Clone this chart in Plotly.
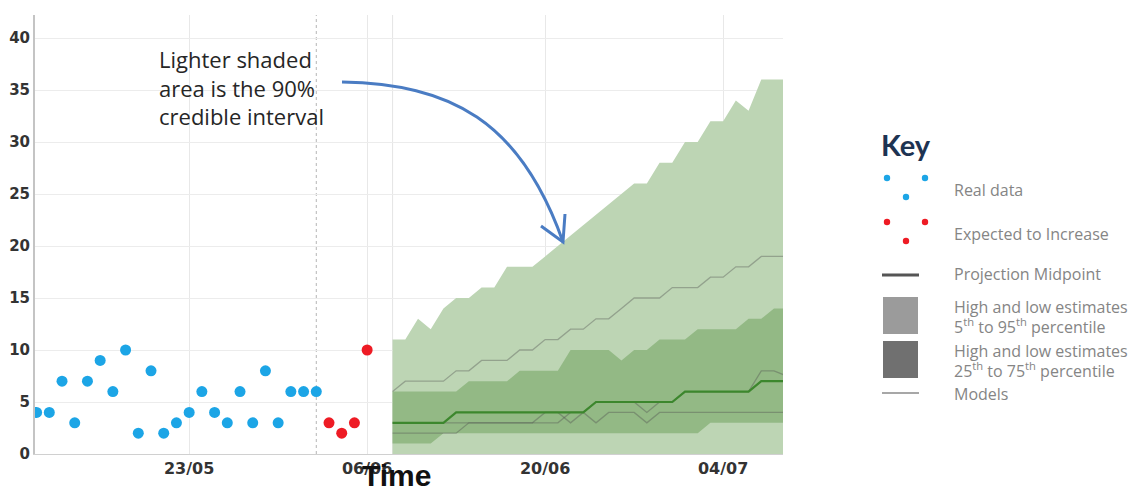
import pandas as pd
import plotly.graph_objects as go

# ---------------- data ----------------
real_start = "2020-05-11"
real_values = [4, 4, 7, 3, 7, 9, 6, 10, 2, 8, 2, 3, 4, 6, 4, 3, 6, 3, 8, 3, 6, 6, 6]

expected_start = "2020-06-03"
expected_values = [3, 2, 3, 10]

proj_start = "2020-06-08"
p95_high = [11, 11, 13, 12, 14, 15, 15, 16, 16, 18, 18, 18, 19, 20, 21, 22, 23, 24, 25, 26,
            26, 28, 28, 30, 30, 32, 32, 34, 33, 36, 36, 36]
p5_low = [0, 0, 0, 0, 0, 0, 0, 0, 0, 0, 0, 0, 0, 0, 0, 0, 0, 0, 0, 0,
          0, 0, 0, 0, 0, 0, 0, 0, 0, 0, 0, 0]
p75_high = [6, 6, 6, 6, 6, 6, 7, 7, 7, 7, 8, 8, 8, 8, 10, 10, 10, 10, 9, 10,
            10, 11, 11, 11, 12, 12, 12, 12, 13, 13, 14, 14]
p25_low = [1, 1, 1, 1, 2, 2, 2, 2, 2, 2, 2, 2, 2, 2, 2, 2, 2, 2, 2, 2,
           2, 2, 2, 2, 2, 3, 3, 3, 3, 3, 3, 3]
midpoint = [3, 3, 3, 3, 3, 4, 4, 4, 4, 4, 4, 4, 4, 4, 4, 4, 5, 5, 5, 5,
            5, 5, 5, 6, 6, 6, 6, 6, 6, 7, 7, 7]
model_a = [6, 7, 7, 7, 7, 8, 8, 9, 9, 9, 10, 10, 11, 11, 12, 12, 13, 13, 14, 15,
           15, 15, 16, 16, 16, 17, 17, 18, 18, 19, 19, 19]
model_b = [2, 2, 2, 2, 2, 2, 3, 3, 3, 3, 3, 3, 4, 4, 3, 4, 3, 4, 4, 4,
           3, 4, 4, 4, 4, 4, 4, 4, 4, 4, 4, 4]
model_c = [3, 3, 3, 3, 3, 3, 3, 3, 3, 3, 3, 3, 3, 3, 4, 4, 5, 5, 5, 5,
           4, 5, 5, 6, 6, 6, 6, 6, 6, 8, 8, 7.5]

tick_dates = ["2020-05-23", "2020-06-06", "2020-06-20", "2020-07-04"]
tick_labels = ["23/05", "06/06", "20/06", "04/07"]
y_ticks = [0, 5, 10, 15, 20, 25, 30, 35, 40]
cutoff_date = "2020-06-02"

real_dates = pd.date_range(real_start, periods=len(real_values))
expected_dates = pd.date_range(expected_start, periods=len(expected_values))
proj_dates = pd.date_range(proj_start, periods=len(p95_high))

# ---------------- styling ----------------
LIGHT = "#bdd5b4"
DARK = "#93b985"
MID = "#3c872d"
MODEL = "rgba(80,80,80,0.38)"
BLUE = "#1ca5e6"
RED = "#ee1b24"

OFF = 8                      # page body margin
W, H = 1146 - OFF, 488 - OFF
# plot area in page pixels
L, R, T, B = 35, 783, 15, 454


def px(x):
    return (x - L) / (R - L)


def py(y):
    return (B - y) / (B - T)


fig = go.Figure()

# 90% band
fig.add_trace(go.Scatter(x=proj_dates, y=p5_low, mode="lines", line=dict(width=0),
                         showlegend=False, hoverinfo="skip"))
fig.add_trace(go.Scatter(x=proj_dates, y=p95_high, mode="lines", line=dict(width=0),
                         fill="tonexty", fillcolor=LIGHT, showlegend=False))
# 50% band
fig.add_trace(go.Scatter(x=proj_dates, y=p25_low, mode="lines", line=dict(width=0),
                         showlegend=False, hoverinfo="skip"))
fig.add_trace(go.Scatter(x=proj_dates, y=p75_high, mode="lines", line=dict(width=0),
                         fill="tonexty", fillcolor=DARK, showlegend=False))
# model lines
for m in (model_a, model_b, model_c):
    fig.add_trace(go.Scatter(x=proj_dates, y=m, mode="lines",
                             line=dict(color=MODEL, width=1.3), showlegend=False))
# midpoint
fig.add_trace(go.Scatter(x=proj_dates, y=midpoint, mode="lines",
                         line=dict(color=MID, width=2.2), showlegend=False))
# observed points
fig.add_trace(go.Scatter(x=real_dates, y=real_values, mode="markers",
                         marker=dict(color=BLUE, size=11), showlegend=False))
fig.add_trace(go.Scatter(x=expected_dates, y=expected_values, mode="markers",
                         marker=dict(color=RED, size=11), showlegend=False))

shapes = []
# dotted cut-off line and projection start line
shapes.append(dict(type="line", xref="x", yref="paper", x0=cutoff_date, x1=cutoff_date,
                   y0=0, y1=1, line=dict(color="#b5b5b5", width=1, dash="dot"), layer="below"))
shapes.append(dict(type="line", xref="x", yref="paper", x0=proj_dates[0], x1=proj_dates[0],
                   y0=0, y1=1, line=dict(color="#e4e4e4", width=1), layer="below"))

# curved arrow (annotation)
p0, p1, p2, p3 = (342, 82), (450, 84), (520, 120), (563, 242)
path = "M {} {} C {} {}, {} {}, {} {}".format(px(p0[0]), py(p0[1]), px(p1[0]), py(p1[1]),
                                             px(p2[0]), py(p2[1]), px(p3[0]), py(p3[1]))
shapes.append(dict(type="path", xref="paper", yref="paper", path=path,
                   line=dict(color="#4a7cc3", width=3)))
head = "M {} {} L {} {} L {} {}".format(px(541), py(226), px(563), py(242), px(565), py(214))
shapes.append(dict(type="path", xref="paper", yref="paper", path=head,
                   line=dict(color="#4a7cc3", width=3)))

# key glyphs
def dot(cx, cy, color, r=3.2):
    return dict(type="circle", xref="paper", yref="paper", xsizemode="pixel", ysizemode="pixel",
                xanchor=px(cx), yanchor=py(cy), x0=-r, x1=r, y0=-r, y1=r,
                fillcolor=color, line=dict(width=0))


for (cx, cy) in [(887, 178), (925, 178), (906, 197)]:
    shapes.append(dot(cx, cy, BLUE))
for (cx, cy) in [(887, 222), (925, 222), (906, 241)]:
    shapes.append(dot(cx, cy, RED))
shapes.append(dict(type="line", xref="paper", yref="paper", x0=px(882), x1=px(919),
                   y0=py(275), y1=py(275), line=dict(color="#555555", width=3)))
shapes.append(dict(type="rect", xref="paper", yref="paper", x0=px(883), x1=px(918),
                   y0=py(334), y1=py(297), fillcolor="#9b9b9b", line=dict(width=0)))
shapes.append(dict(type="rect", xref="paper", yref="paper", x0=px(883), x1=px(918),
                   y0=py(378), y1=py(341), fillcolor="#707070", line=dict(width=0)))
shapes.append(dict(type="line", xref="paper", yref="paper", x0=px(882), x1=px(919),
                   y0=py(393), y1=py(393), line=dict(color="#8a8a8a", width=1.5)))

annotations = []
annotations.append(dict(xref="paper", yref="paper", x=px(157), y=py(42), xanchor="left",
                        yanchor="top", align="left", showarrow=False,
                        text="Lighter shaded<br>area is the 90%<br>credible interval",
                        font=dict(family="Open Sans", size=22, color="#262626")))
annotations.append(dict(xref="paper", yref="paper", x=px(396), y=py(457), xanchor="center",
                        yanchor="top", showarrow=False, text="<b>Time</b>",
                        font=dict(family="Liberation Sans", size=30, color="#111111")))
annotations.append(dict(xref="paper", yref="paper", x=px(879), y=py(144), xanchor="left",
                        yanchor="middle", showarrow=False, text="<b>Key</b>",
                        font=dict(family="Lato", size=29, color="#1d3352")))

KEYFONT = dict(family="Open Sans", size=16, color="#858585")
key_texts = [
    (190, "Real data"),
    (234, "Expected to Increase"),
    (274, "Projection Midpoint"),
    (307, "High and low estimates"),
    (326, "5<sup>th</sup> to 95<sup>th</sup> percentile"),
    (351, "High and low estimates"),
    (370, "25<sup>th</sup> to 75<sup>th</sup> percentile"),
    (394, "Models"),
]
for (yy, txt) in key_texts:
    annotations.append(dict(xref="paper", yref="paper", x=px(952), y=py(yy), xanchor="left",
                            yanchor="middle", align="left", showarrow=False, text=txt,
                            font=KEYFONT))

fig.update_layout(
    width=W, height=H,
    margin=dict(l=L - OFF, r=W - (R - OFF), t=T - OFF, b=H - (B - OFF), pad=0,
                autoexpand=False),
    paper_bgcolor="white", plot_bgcolor="white",
    shapes=shapes, annotations=annotations,
    showlegend=False,
    xaxis=dict(range=["2020-05-10 21:00", "2020-07-08 17:00"], tickvals=tick_dates,
               ticktext=tick_labels, showgrid=True, gridcolor="#e8e8e8", gridwidth=1,
               showline=True, linecolor="#d0d0d0", linewidth=1, zeroline=False, ticks="",
               automargin=False,
               tickfont=dict(family="DejaVu Sans", size=16, color="#333333", weight="bold")),
    yaxis=dict(range=[0, (B - T) / 10.4], tickvals=y_ticks, showgrid=True, gridcolor="#ececec",
               gridwidth=1, showline=True, linecolor="#c4c4c4", linewidth=2, zeroline=False,
               ticks="", ticklabelstandoff=0, automargin=False,
               tickfont=dict(family="DejaVu Sans", size=15, color="#333333", weight="bold")),
)

fig.write_html("out.html")
